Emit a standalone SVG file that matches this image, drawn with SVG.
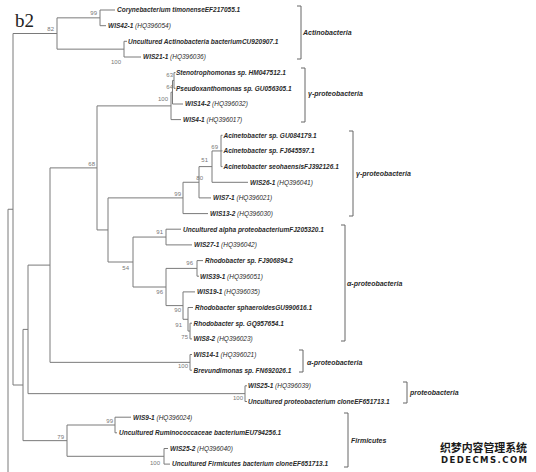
<svg xmlns="http://www.w3.org/2000/svg" width="536" height="472" viewBox="0 0 536 472">
<style>
.br{fill:none;stroke:#7a7a7a;stroke-width:1}
.lf{font-family:"Liberation Sans",Arial,sans-serif;font-size:6.5px;font-style:italic;font-weight:bold;fill:#2a2a2a}
.acc{font-weight:normal}
.bs{font-family:"Liberation Sans",Arial,sans-serif;font-size:6px;fill:#777}
.cl{font-family:"Liberation Sans",Arial,sans-serif;font-size:7px;font-style:italic;font-weight:bold;fill:#2a2a2a}
.bk{fill:none;stroke:#666;stroke-width:1}
</style>
<rect width="536" height="472" fill="#fff"/>
<text x="15" y="27" font-family="Liberation Serif,serif" font-size="19" fill="#222">b2</text>
<g id="connectors" class="br">
<path d="M8,209.25V472M8,209.25H13"/>
<path d="M13,33.5V385M13,33.5H57M13,385H23"/>
<path d="M57,17.85V49.15M57,17.85H100M57,49.15H124"/>
<path d="M100,10V25.7M100,10H115M100,25.7H106"/>
<path d="M124,41.3V57M124,41.3H127M124,57H141"/>
<path d="M23,329.4V440.65M23,329.4H28M23,440.65H67"/>
<path d="M28,265.1V393.65M28,265.1H50M28,393.65H245"/>
<path d="M50,167.9V362.35M50,167.9H97M50,362.35H190"/>
<path d="M97,105.9V229.95M97,105.9H171M97,229.95H108"/>
<path d="M171,92.2V119.6M171,92.2H172.5M171,119.6H181"/>
<path d="M172.5,80.45V104M172.5,80.45H174M172.5,104H183"/>
<path d="M174,72.6V88.3M174,72.6H175.5M174,88.3H175.5"/>
<path d="M108,197.9V262M108,197.9H183M108,262H133"/>
<path d="M183,182.25V213.6M183,182.25H199M183,213.6H208"/>
<path d="M199,166.6V197.9M199,166.6H212M199,197.9H211"/>
<path d="M212,150.95V182.3M212,150.95H221M212,182.3H248"/>
<path d="M221,135.3V166.6M221,135.3H222.5M221,150.9H222.5M221,166.6H222.5"/>
<path d="M133,237.05V287M133,237.05H166M133,287H166"/>
<path d="M166,229.2V244.9M166,229.2H181M166,244.9H192"/>
<path d="M166,268.4V305.6M166,268.4H197M166,305.6H183"/>
<path d="M197,260.6V276.2M197,260.6H203M197,276.2H199"/>
<path d="M183,291.9V319.3M183,291.9H195M183,319.3H188"/>
<path d="M188,307.5V331.05M188,307.5H193M188,331.05H190"/>
<path d="M190,323.2V338.9M190,323.2H192M190,338.9H192"/>
<path d="M190,354.5V370.2M190,354.5H192M190,370.2H192"/>
<path d="M245,385.8V401.5M245,385.8H247M245,401.5H247"/>
<path d="M67,425V456.3M67,425H115M67,456.3H164"/>
<path d="M115,417.2V432.8M115,417.2H131M115,432.8H117"/>
<path d="M164,448.5V464.1M164,448.5H168M164,464.1H170"/>
</g>
<g id="bootstrap" class="bs" text-anchor="end">
<text x="97" y="15">99</text>
<text x="54" y="31">82</text>
<text x="121" y="64">100</text>
<text x="173" y="77">63</text>
<text x="173" y="89">64</text>
<text x="168" y="101">100</text>
<text x="95" y="166">68</text>
<text x="218" y="149">69</text>
<text x="208" y="162">51</text>
<text x="203" y="180">80</text>
<text x="181" y="196">99</text>
<text x="163" y="234">91</text>
<text x="129" y="270">54</text>
<text x="193" y="265">96</text>
<text x="163" y="294">96</text>
<text x="181" y="312">90</text>
<text x="182" y="327">91</text>
<text x="188" y="339">75</text>
<text x="188" y="368">100</text>
<text x="243" y="400">100</text>
<text x="113" y="423">99</text>
<text x="64" y="439">79</text>
<text x="160" y="465">100</text>
</g>
<g id="leaf1" class="lf"><text x="117" y="12.3">Corynebacterium timonenseEF217055.1</text></g>
<g id="leaf2" class="lf"><text x="108" y="28">WIS42-1 <tspan class="acc">(HQ396054)</tspan></text></g>
<g id="leaf3" class="lf"><text x="128" y="43.6">Uncultured Actinobacteria bacteriumCU920907.1</text></g>
<g id="leaf4" class="lf"><text x="143" y="59.3">WIS21-1 <tspan class="acc">(HQ396036)</tspan></text></g>
<g id="leaf5" class="lf"><text x="176" y="74.9">Stenotrophomonas sp. HM047512.1</text></g>
<g id="leaf6" class="lf"><text x="176" y="90.6">Pseudoxanthomonas sp. GU056305.1</text></g>
<g id="leaf7" class="lf"><text x="185" y="106.3">WIS14-2 <tspan class="acc">(HQ396032)</tspan></text></g>
<g id="leaf8" class="lf"><text x="183" y="121.9">WIS4-1 <tspan class="acc">(HQ396017)</tspan></text></g>
<g id="leaf9" class="lf"><text x="223.5" y="137.6">Acinetobacter sp. GU084179.1</text></g>
<g id="leaf10" class="lf"><text x="223.5" y="153.2">Acinetobacter sp. FJ645597.1</text></g>
<g id="leaf11" class="lf"><text x="223.5" y="168.9">Acinetobacter seohaensisFJ392126.1</text></g>
<g id="leaf12" class="lf"><text x="250" y="184.6">WIS26-1 <tspan class="acc">(HQ396041)</tspan></text></g>
<g id="leaf13" class="lf"><text x="213" y="200.2">WIS7-1 <tspan class="acc">(HQ396021)</tspan></text></g>
<g id="leaf14" class="lf"><text x="210" y="215.9">WIS13-2 <tspan class="acc">(HQ396030)</tspan></text></g>
<g id="leaf15" class="lf"><text x="183" y="231.5">Uncultured alpha proteobacteriumFJ205320.1</text></g>
<g id="leaf16" class="lf"><text x="194" y="247.2">WIS27-1 <tspan class="acc">(HQ396042)</tspan></text></g>
<g id="leaf17" class="lf"><text x="205" y="262.9">Rhodobacter sp. FJ906894.2</text></g>
<g id="leaf18" class="lf"><text x="200" y="278.5">WIS39-1 <tspan class="acc">(HQ396051)</tspan></text></g>
<g id="leaf19" class="lf"><text x="197" y="294.2">WIS19-1 <tspan class="acc">(HQ396035)</tspan></text></g>
<g id="leaf20" class="lf"><text x="195" y="309.8">Rhodobacter sphaeroidesGU990616.1</text></g>
<g id="leaf21" class="lf"><text x="193.5" y="325.5">Rhodobacter sp. GQ957654.1</text></g>
<g id="leaf22" class="lf"><text x="193.5" y="341.2">WIS8-2 <tspan class="acc">(HQ396023)</tspan></text></g>
<g id="leaf23" class="lf"><text x="193.5" y="356.8">WIS14-1 <tspan class="acc">(HQ396021)</tspan></text></g>
<g id="leaf24" class="lf"><text x="193.5" y="372.5">Brevundimonas sp. FN692026.1</text></g>
<g id="leaf25" class="lf"><text x="248" y="388.1">WIS25-1 <tspan class="acc">(HQ396039)</tspan></text></g>
<g id="leaf26" class="lf"><text x="248" y="403.8">Uncultured proteobacterium cloneEF651713.1</text></g>
<g id="leaf27" class="lf"><text x="133" y="419.5">WIS9-1 <tspan class="acc">(HQ396024)</tspan></text></g>
<g id="leaf28" class="lf"><text x="119" y="435.1">Uncultured Ruminococcaceae bacteriumEU794256.1</text></g>
<g id="leaf29" class="lf"><text x="170" y="450.8">WIS25-2 <tspan class="acc">(HQ396040)</tspan></text></g>
<g id="leaf30" class="lf"><text x="172" y="466.4">Uncultured Firmicutes bacterium cloneEF651713.1</text></g>
<g id="clades">
<g id="clade-actino"><path class="bk" d="M297,6H301V59H297"/><text class="cl" x="303" y="35">Actinobacteria</text></g>
<g id="clade-gamma1"><path class="bk" d="M301,68H305V122H301"/><text class="cl" x="308" y="96" font-weight="normal">γ-proteobacteria</text></g>
<g id="clade-gamma2"><path class="bk" d="M349,131H353V216H349"/><text class="cl" x="356" y="176" font-weight="normal">γ-proteobacteria</text></g>
<g id="clade-alpha1"><path class="bk" d="M341,225H345V341H341"/><text class="cl" x="347" y="286">α-proteobacteria</text></g>
<g id="clade-alpha2"><path class="bk" d="M299,350H303V372H299"/><text class="cl" x="307" y="365">α-proteobacteria</text></g>
<g id="clade-proteo"><path class="bk" d="M403,382H407V403H403"/><text class="cl" x="410" y="395">proteobacteria</text></g>
<g id="clade-firmi"><path class="bk" d="M344,413H348V467H344"/><text class="cl" x="351" y="443">Firmicutes</text></g>
</g>
<g id="watermark" font-weight="bold" fill="#1a1a1a" stroke="#fff" stroke-width="1.5" paint-order="stroke">
<text x="440" y="452" font-family="Noto Sans CJK SC,sans-serif" font-size="11" textLength="87">织梦内容管理系统</text>
<text x="441" y="462.5" font-family="DejaVu Sans,sans-serif" font-size="8.5" textLength="86" lengthAdjust="spacing">DEDECMS.COM</text>
</g>
</svg>
